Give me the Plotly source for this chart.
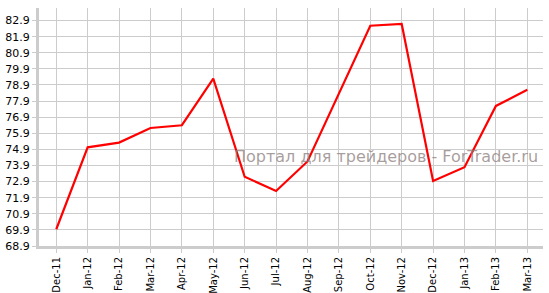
import plotly.graph_objects as go

months = ["Dec-11", "Jan-12", "Feb-12", "Mar-12", "Apr-12", "May-12", "Jun-12", "Jul-12",
          "Aug-12", "Sep-12", "Oct-12", "Nov-12", "Dec-12", "Jan-13", "Feb-13", "Mar-13"]
values = [69.94, 75.03, 75.32, 76.23, 76.40, 79.29, 73.20, 72.32,
          74.15, 78.40, 82.58, 82.69, 72.94, 73.79, 77.60, 78.60]
y_ticks = [68.9 + i for i in range(15)]
y_tick_labels = [f"{v:.1f}" for v in y_ticks]
watermark = "Портал для трейдеров - ForTrader.ru"

fig = go.Figure()
fig.add_trace(go.Scatter(x=months, y=values, mode="lines",
                         line=dict(color="#ff0000", width=2.2), hoverinfo="skip"))

fig.add_annotation(text=watermark, xref="paper", yref="paper", x=0.689, y=0.374,
                   showarrow=False, xanchor="center", yanchor="middle",
                   font=dict(family="DejaVu Sans", size=16, color="rgba(140,125,125,0.75)"))

fig.update_layout(
    width=549, height=293,
    margin=dict(l=39, r=6, t=8, b=47, autoexpand=False),
    paper_bgcolor="white", plot_bgcolor="white",
    showlegend=False,
    font=dict(family="DejaVu Sans", color="#000000"),
)
fig.update_xaxes(type="category", range=[-0.55, 15.5], tickangle=-90, automargin=False,
                 tickfont=dict(size=10, family="DejaVu Sans"),
                 showgrid=True, gridcolor="#cccccc", gridwidth=1,
                 showline=True, linecolor="#cccccc", linewidth=3,
                 ticks="outside", ticklen=4, tickcolor="#cccccc", tickwidth=1)
fig.update_yaxes(range=[68.9, 83.68], tickmode="array", tickvals=y_ticks, ticktext=y_tick_labels,
                 automargin=False,
                 tickfont=dict(size=11, family="DejaVu Sans"),
                 showgrid=True, gridcolor="#cccccc", gridwidth=1, zeroline=False,
                 showline=True, linecolor="#cccccc", linewidth=3,
                 ticks="outside", ticklen=4, tickcolor="#cccccc", tickwidth=1)

fig.write_html("out.html")
